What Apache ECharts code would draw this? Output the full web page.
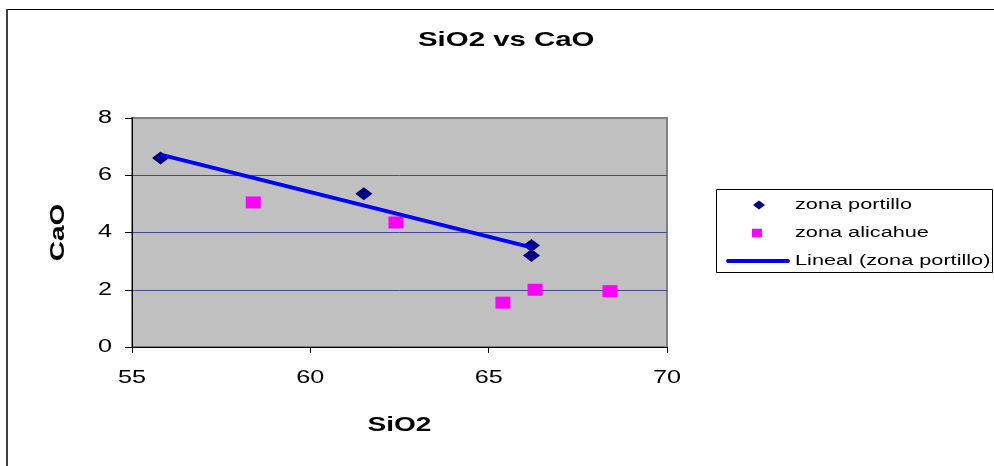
<!DOCTYPE html>
<html>
<head>
<meta charset="utf-8">
<script src="https://cdn.jsdelivr.net/npm/echarts@6/dist/echarts.min.js"></script>
<style>
  html, body { margin: 0; padding: 0; background: #ffffff; }
  #chart { width: 994px; height: 466px; }
</style>
</head>
<body>
<div id="chart"></div>
<script>
// SiO2 (x) and CaO (y) measurements per zone
const portilloSiO2 = [55.8, 61.5, 66.2, 66.2];
const portilloCaO  = [6.6, 5.35, 3.55, 3.2];
const alicahueSiO2 = [58.4, 62.4, 65.4, 66.3, 68.4];
const alicahueCaO  = [5.05, 4.35, 1.55, 2.0, 1.95];
// linear trend of zona portillo, end points
const trendSiO2 = [55.8, 66.2];
const trendCaO  = [6.72, 3.48];
// axis ticks
const xTicks = [55, 60, 65, 70];
const yTicks = [0, 2, 4, 6, 8];
const seriesNames = ['zona portillo', 'zona alicahue', 'Lineal (zona portillo)'];
const chartTitle = 'SiO2 vs CaO';
const xName = 'SiO2';
const yName = 'CaO';

const pairs = (xs, ys) => xs.map((x, i) => [x, ys[i]]);

// Draw all canvas text horizontally widened around its anchor point,
// giving the broad, stretched lettering of the original spreadsheet chart.
const TEXT_STRETCH = 1.4;
(function () {
  const proto = CanvasRenderingContext2D.prototype;
  const fill = proto.fillText;
  const stroke = proto.strokeText;
  proto.fillText = function (text, x, y, maxWidth) {
    this.save();
    this.translate(x, y);
    this.scale(TEXT_STRETCH, 1);
    fill.call(this, text, 0, 0);
    this.restore();
  };
  proto.strokeText = function (text, x, y, maxWidth) {
    this.save();
    this.translate(x, y);
    this.scale(TEXT_STRETCH, 1);
    stroke.call(this, text, 0, 0);
    this.restore();
  };
})();

// Legend icons inside a 64x12 box; corner points keep the box size so the
// marker keeps its own proportions and position.
const ICON_DIAMOND = 'path://M0 0L0 0M27 6L33 1.4L39 6L33 10.6ZM64 12L64 12';
const ICON_SQUARE  = 'path://M0 0L0 0M26 1.8L36 1.8L36 10.2L26 10.2ZM64 12L64 12';
const ICON_LINE    = 'path://M0 0L0 0M1 4L63 4L64 6L63 8L1 8L0 6ZM64 12L64 12';

const FONT = 'Arial, "Liberation Sans", sans-serif';
const chart = echarts.init(document.getElementById('chart'), null, { renderer: 'canvas' });

chart.setOption({
  animation: false,
  backgroundColor: '#ffffff',
  title: {
    text: chartTitle,
    left: 418,
    top: 30,
    padding: 0,
    textStyle: { fontFamily: FONT, fontSize: 21, fontWeight: 'bold', color: '#000000' }
  },
  grid: {
    left: 132, right: 327, top: 118, bottom: 119,
    show: true,
    backgroundColor: '#C0C0C0',
    borderColor: '#808080',
    borderWidth: 2,
    containLabel: false,
    outerBoundsMode: 'none'
  },
  legend: {
    orient: 'vertical',
    left: 726,
    top: 197,
    padding: 0,
    itemWidth: 64,
    itemHeight: 12,
    itemGap: 12,
    symbolKeepAspect: true,
    data: [
      { name: seriesNames[0], icon: ICON_DIAMOND },
      { name: seriesNames[1], icon: ICON_SQUARE },
      { name: seriesNames[2], icon: ICON_LINE }
    ],
    textStyle: { fontFamily: FONT, fontSize: 15.5, color: '#000000' }
  },
  xAxis: {
    type: 'value',
    min: xTicks[0],
    max: xTicks[xTicks.length - 1],
    interval: xTicks[1] - xTicks[0],
    name: xName,
    nameLocation: 'middle',
    nameGap: 68,
    nameTextStyle: { fontFamily: FONT, fontSize: 20, fontWeight: 'bold', color: '#000000' },
    axisLine: { show: true, onZero: false, lineStyle: { color: '#000000', width: 1 } },
    axisTick: { show: true, inside: false, length: 6, lineStyle: { color: '#000000' } },
    axisLabel: { margin: 22, fontFamily: FONT, fontSize: 18, color: '#000000' },
    splitLine: { show: false }
  },
  yAxis: {
    type: 'value',
    min: yTicks[0],
    max: yTicks[yTicks.length - 1],
    interval: yTicks[1] - yTicks[0],
    name: yName,
    nameLocation: 'middle',
    nameGap: 64,
    nameRotate: 90,
    nameTextStyle: { fontFamily: FONT, fontSize: 20, fontWeight: 'bold', color: '#000000' },
    axisLine: { show: true, onZero: false, lineStyle: { color: '#000000', width: 1 } },
    axisTick: { show: true, inside: false, length: 7, lineStyle: { color: '#000000' } },
    axisLabel: { margin: 20, fontFamily: FONT, fontSize: 18, color: '#000000' },
    splitLine: {
      show: true,
      lineStyle: { color: ['#000000', '#4A4A90', '#4A4A90', '#4A4A90', '#808080'], width: 1 }
    }
  },
  series: [
    {
      name: seriesNames[0],
      type: 'scatter',
      symbol: 'diamond',
      symbolSize: [17, 13],
      itemStyle: { color: '#000080', opacity: 1 },
      data: pairs(portilloSiO2, portilloCaO),
      z: 3
    },
    {
      name: seriesNames[1],
      type: 'scatter',
      symbol: 'rect',
      symbolSize: [15, 12],
      itemStyle: { color: '#FF00FF', opacity: 1 },
      data: pairs(alicahueSiO2, alicahueCaO),
      z: 3
    },
    {
      name: seriesNames[2],
      type: 'line',
      symbol: 'none',
      showSymbol: false,
      lineStyle: { color: '#0000FF', width: 4 },
      itemStyle: { color: '#0000FF' },
      data: pairs(trendSiO2, trendCaO),
      z: 4
    }
  ],
  graphic: [
    { type: 'line', silent: true, shape: { x1: 6, y1: 9.5, x2: 994, y2: 9.5 }, style: { stroke: '#000000', lineWidth: 1 } },
    { type: 'line', silent: true, shape: { x1: 7, y1: 9, x2: 7, y2: 466 }, style: { stroke: '#404040', lineWidth: 2 } },
    { type: 'rect', silent: true, shape: { x: 716.5, y: 189.5, width: 276, height: 83 }, style: { fill: 'none', stroke: '#000000', lineWidth: 1 } }
  ]
});
</script>
</body>
</html>
